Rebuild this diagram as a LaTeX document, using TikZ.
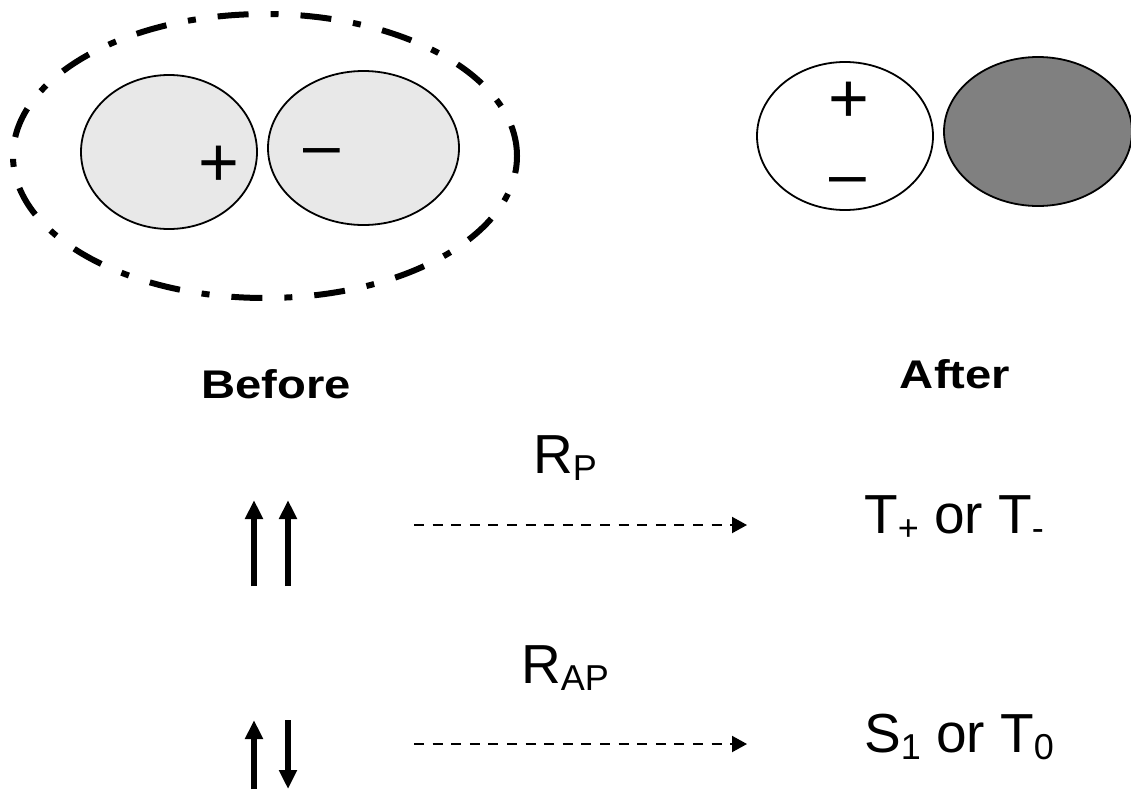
\documentclass[tikz,border=0pt]{standalone}
\usepackage{fontspec}
\setmainfont{Liberation Sans}
\usepackage{graphicx}
\usetikzlibrary{shapes.geometric,arrows.meta}
\definecolor{lightblob}{HTML}{E8E8E8}
\definecolor{darkblob}{HTML}{808080}
\newcommand{\mysub}[1]{\raisebox{-7pt}{\fontsize{36}{40}\selectfont #1}}
\tikzset{
  blob/.style={ellipse, draw=black, line width=1.8pt, inner sep=0pt},
  cloudring/.style={ellipse, draw=black, line width=6pt, dash pattern=on 31pt off 22pt on 8pt off 22pt, inner sep=0pt},
  spin/.style={line width=5.5pt, -{Triangle[length=19pt,width=17pt]}},
  flow/.style={line width=2pt, dash pattern=on 10pt off 8.6pt, -{Triangle[length=15pt,width=16pt]}},
  bigtext/.style={font=\fontsize{55}{60}\selectfont, inner sep=0pt, anchor=base west},
  headtext/.style={font=\fontsize{40}{46}\selectfont\bfseries, inner sep=0pt, anchor=base},
  plussign/.style={font=\fontsize{70}{80}\selectfont, inner sep=0pt, anchor=base},
  minussign/.style={font=\fontsize{66}{76}\selectfont, inner sep=0pt, anchor=base}
}
\begin{document}
\begin{tikzpicture}[x=1pt,y=-1pt]
\useasboundingbox (0,0) rectangle (1131,790);
% before
\node[cloudring, minimum width=504pt, minimum height=284pt] (ring) at (265,156) {};
\node[blob, fill=lightblob, minimum width=176pt, minimum height=154pt] (bl) at (169,152) {};
\node[blob, fill=lightblob, minimum width=191pt, minimum height=154pt] (br) at (363.5,148) {};
\node[plussign] (bplus) at (219,186) {+};
\node[minussign] (bminus) at (322,167) {–};
% after
\node[blob, fill=white, minimum width=176pt, minimum height=148pt] (al) at (845,136) {};
\node[blob, fill=darkblob, minimum width=188pt, minimum height=149pt] (ar) at (1038,131.5) {};
\node[plussign] (aplus) at (849,122) {+};
\node[minussign] (aminus) at (848,196) {–};
% labels
\node[headtext] (before) at (276,398) {\scalebox{1.18}[1]{Before}};
\node[headtext] (after) at (955,388) {\scalebox{1.18}[1]{After}};
% parallel spins
\coordinate (u1s) at (254,586); \coordinate (u1e) at (254,500);
\coordinate (u2s) at (288,586); \coordinate (u2e) at (288,500);
\draw[spin] (u1s) -- (u1e);
\draw[spin] (u2s) -- (u2e);
% antiparallel spins
\coordinate (v1s) at (254,789); \coordinate (v1e) at (254,720);
\coordinate (v2s) at (288,720); \coordinate (v2e) at (288,789);
\draw[spin] (v1s) -- (v1e);
\draw[spin] (v2s) -- (v2e);
% rates
\node[bigtext] (rp) at (533,473) {R\mysub{P}};
\node[bigtext] (rap) at (521,683) {R\mysub{AP}};
\node[bigtext] (tres) at (864,533) {T\mysub{+} or T\mysub{-}};
\node[bigtext] (sres) at (864,752) {S\mysub{1} or T\mysub{0}};
\coordinate (f1s) at (414,525); \coordinate (f1e) at (747,525);
\coordinate (f2s) at (414,744); \coordinate (f2e) at (747,744);
\draw[flow] (f1s) -- (f1e);
\draw[flow] (f2s) -- (f2e);
\end{tikzpicture}
\end{document}
